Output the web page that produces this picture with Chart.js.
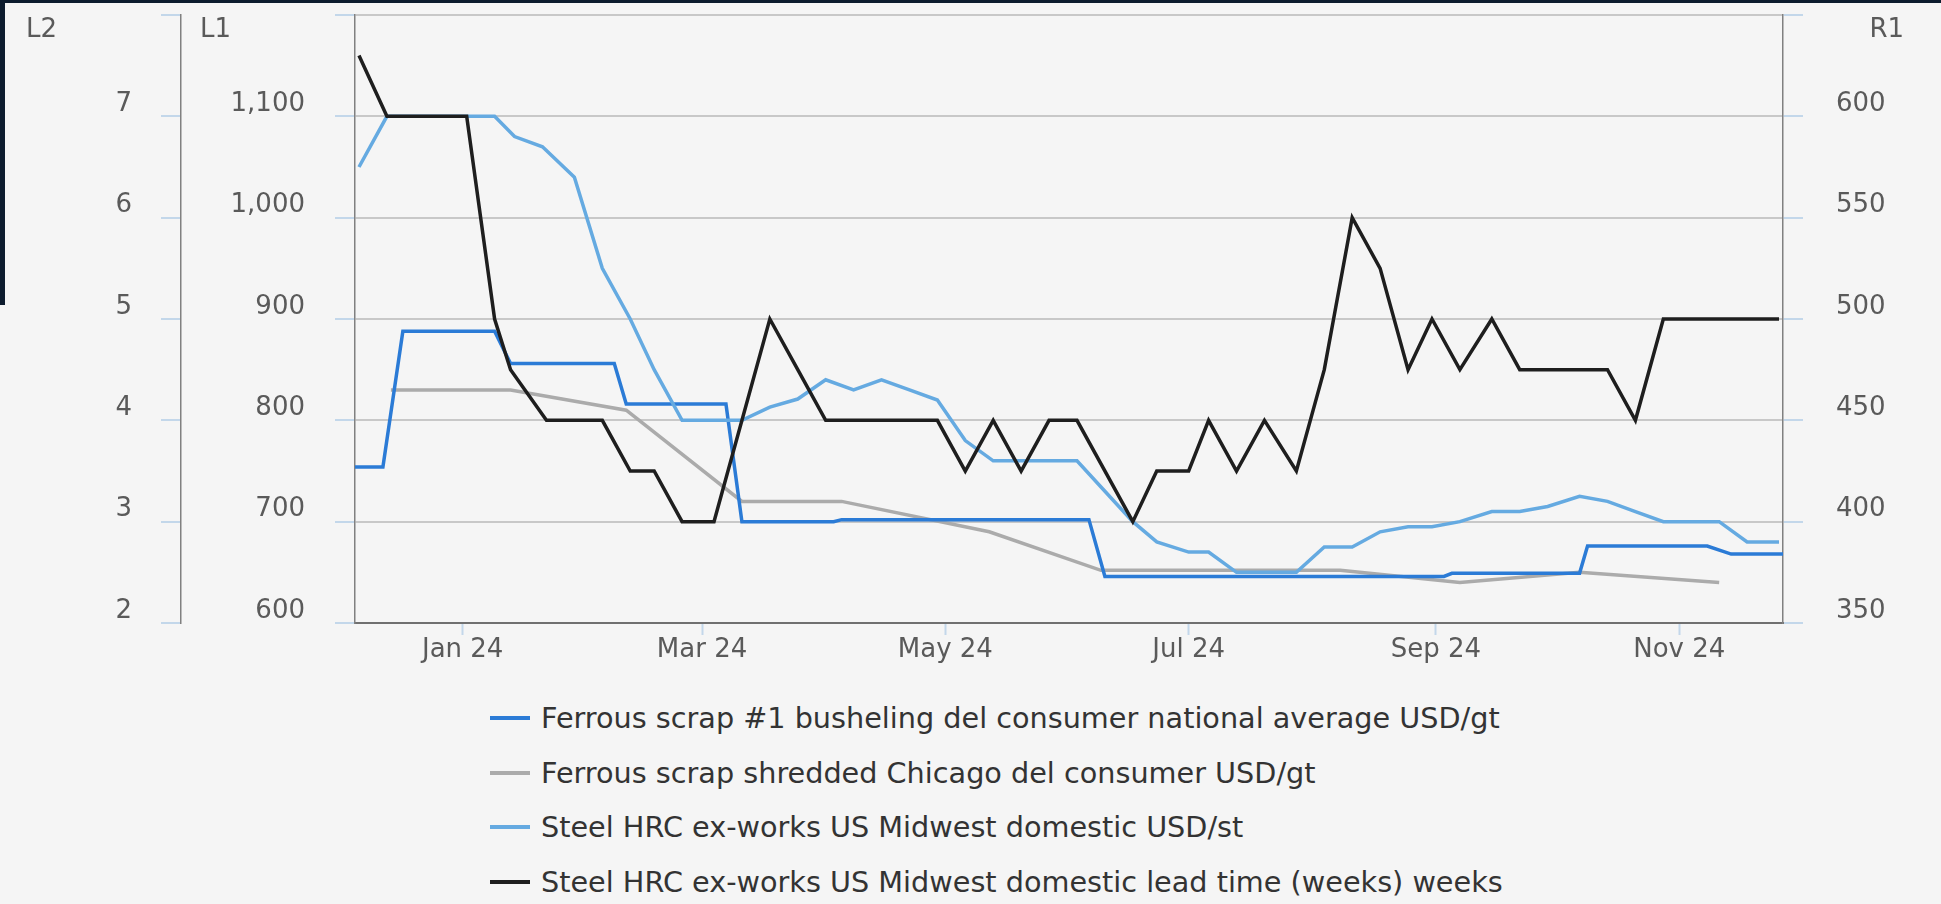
<!DOCTYPE html>
<html>
<head>
<meta charset="utf-8">
<title>Ferrous scrap and HRC</title>
<script src="https://cdn.jsdelivr.net/npm/chart.js@4.4.1/dist/chart.umd.min.js"></script>
<style>
  html, body { margin: 0; padding: 0; background: #f5f5f5; }
  body { width: 1941px; height: 904px; position: relative; overflow: hidden; font-family: "DejaVu Sans", sans-serif; }
  .edgeTop { position: absolute; left: 0; top: 0; width: 1941px; height: 3px; background: #0d1c2e; }
  .edgeLeft { position: absolute; left: 0; top: 0; width: 5px; height: 305px; background: #0d1c2e; }
  #chartBox { position: relative; width: 1941px; height: 680px; }
  #legend { padding: 11px 0 0 490px; }
  #legend .item { display: flex; align-items: center; height: 54.6px; font-size: 28.7px; color: #333; white-space: nowrap; }
  #legend .swatch { display: inline-block; width: 40px; height: 4px; margin-right: 11px; }
</style>
</head>
<body>
<div class="edgeTop"></div>
<div class="edgeLeft"></div>
<div id="chartBox"><canvas id="steelChart"></canvas></div>
<div id="legend"></div>

<script>
/******************************************************
 * DATA
 ******************************************************/
const tickDates  = ["2024-01-01", "2024-03-01", "2024-05-01", "2024-07-01", "2024-09-01", "2024-11-01"];
const tickLabels = ["Jan 24", "Mar 24", "May 24", "Jul 24", "Sep 24", "Nov 24"];

const seriesNames = [
  "Ferrous scrap #1 busheling del consumer national average USD/gt",
  "Ferrous scrap shredded Chicago del consumer USD/gt",
  "Steel HRC ex-works US Midwest domestic USD/st",
  "Steel HRC ex-works US Midwest domestic lead time (weeks) weeks"
];

// busheling, right axis (R1)
const bushelingDates = ["2023-12-05", "2023-12-12", "2023-12-17", "2024-01-09", "2024-01-13", "2024-02-08",
  "2024-02-11", "2024-03-07", "2024-03-11", "2024-04-03", "2024-04-05", "2024-06-06", "2024-06-10",
  "2024-09-03", "2024-09-05", "2024-10-07", "2024-10-09", "2024-11-08", "2024-11-14", "2024-11-27"];
const bushelingValues = [427, 427, 494, 494, 478, 478,
  458, 458, 400, 400, 401, 401, 373,
  373, 374.5, 374.5, 388, 388, 384, 384];

// shredded, right axis (R1)
const shreddedDates = ["2023-12-14", "2024-01-13", "2024-02-11", "2024-03-11", "2024-04-05", "2024-05-12",
  "2024-06-09", "2024-08-08", "2024-09-07", "2024-10-07", "2024-11-11"];
const shreddedValues = [465, 465, 455, 410, 410, 395, 376, 376, 370, 375, 370];

// HRC price, left inner axis (L1)
const hrcDates = ["2023-12-06", "2023-12-13", "2024-01-09", "2024-01-14", "2024-01-21", "2024-01-29",
  "2024-02-05", "2024-02-12", "2024-02-18", "2024-02-25", "2024-03-11", "2024-03-18", "2024-03-25",
  "2024-04-01", "2024-04-08", "2024-04-15", "2024-04-22", "2024-04-29", "2024-05-06", "2024-05-13",
  "2024-06-03", "2024-06-10", "2024-06-17", "2024-06-23", "2024-07-01", "2024-07-06", "2024-07-13",
  "2024-07-28", "2024-08-04", "2024-08-11", "2024-08-18", "2024-08-25", "2024-08-31", "2024-09-07",
  "2024-09-15", "2024-09-22", "2024-09-29", "2024-10-07", "2024-10-14", "2024-10-21", "2024-10-28",
  "2024-11-11", "2024-11-18", "2024-11-26"];
const hrcValues = [1050, 1100, 1100, 1080, 1070, 1040,
  950, 900, 850, 800, 800, 813, 821,
  840, 830, 840, 830, 820, 780, 760,
  760, 730, 700, 680, 670, 670, 650,
  650, 675, 675, 690, 695, 695, 700,
  710, 710, 715, 725, 720, 710, 700,
  700, 680, 680];

// lead time in weeks, left outer axis (L2)
const leadDates = ["2023-12-06", "2023-12-13", "2024-01-02", "2024-01-09", "2024-01-13", "2024-01-22",
  "2024-02-05", "2024-02-12", "2024-02-18", "2024-02-25", "2024-03-04", "2024-03-18", "2024-03-25",
  "2024-04-01", "2024-04-29", "2024-05-06", "2024-05-13", "2024-05-20", "2024-05-27", "2024-06-03",
  "2024-06-17", "2024-06-23", "2024-07-01", "2024-07-06", "2024-07-13", "2024-07-20", "2024-07-28",
  "2024-08-04", "2024-08-11", "2024-08-18", "2024-08-25", "2024-08-31", "2024-09-07", "2024-09-15",
  "2024-09-22", "2024-10-14", "2024-10-21", "2024-10-28", "2024-11-26"];
const leadValues = [7.6, 7, 7, 5, 4.5, 4,
  4, 3.5, 3.5, 3, 3, 5, 4.5,
  4, 4, 3.5, 4, 3.5, 4, 4,
  3, 3.5, 3.5, 4, 3.5, 4, 3.5,
  4.5, 6, 5.5, 4.5, 5, 4.5, 5,
  4.5, 4.5, 4, 5, 5];

const axisNames = ["L2", "L1", "R1"];


/******************************************************
 * HELPERS
 ******************************************************/
const DAY0 = Date.UTC(2024, 0, 1);

function dayOf(s) {
  const [y, m, d] = s.split("-").map(Number);
  return (Date.UTC(y, m - 1, d) - DAY0) / 86400000;
}

function points(dates, values) {
  return dates.map((d, i) => ({ x: dayOf(d), y: values[i] }));
}

const TICK_BLUE = "#c3d7ea";
const GRID = "#c8c8c8";
const AXIS = "#808080";
const LABEL = "#5a5a5a";

Chart.defaults.font.family = "'DejaVu Sans', sans-serif";
Chart.defaults.font.size = 26;
Chart.defaults.color = LABEL;

// names of the value axes, written above the top tick
const axisTitles = {
  id: "axisTitles",
  afterDraw(chart) {
    const ctx = chart.ctx;
    ctx.save();
    ctx.font = "26px 'DejaVu Sans'";
    ctx.fillStyle = LABEL;
    ctx.textBaseline = "middle";
    axisNames.forEach(id => {
      const s = chart.scales[id];
      if (s.position === "left") {
        ctx.textAlign = "left";
        ctx.fillText(id, s.right - 155, chart.chartArea.top + 15);
      } else {
        ctx.textAlign = "right";
        ctx.fillText(id, s.left + 121, chart.chartArea.top + 15);
      }
    });
    ctx.restore();
  }
};

function sideAxis(position, min, max, step, width, pad, weight, onArea, fmt) {
  return {
    type: "linear",
    position: position,
    weight: weight,
    min: min,
    max: max,
    afterFit: s => { s.width = width; s.paddingTop = 0; s.paddingBottom = 0; },
    border: { display: true, color: AXIS, width: 1.5 },
    grid: { drawOnChartArea: onArea, color: GRID, lineWidth: 2, tickLength: 20, tickColor: TICK_BLUE, tickWidth: 2 },
    ticks: {
      stepSize: step,
      padding: pad,
      labelOffset: -12,
      callback: v => (v === max ? "" : fmt(v))
    }
  };
}


/******************************************************
 * CHART
 ******************************************************/
const chart = new Chart(document.getElementById("steelChart"), {
  type: "line",
  data: {
    datasets: [
      {
        label: seriesNames[0],
        data: points(bushelingDates, bushelingValues),
        yAxisID: "R1",
        borderColor: "#2b7bd6",
        order: 2
      },
      {
        label: seriesNames[1],
        data: points(shreddedDates, shreddedValues),
        yAxisID: "R1",
        borderColor: "#ababab",
        order: 3
      },
      {
        label: seriesNames[2],
        data: points(hrcDates, hrcValues),
        yAxisID: "L1",
        borderColor: "#65aae1",
        order: 1
      },
      {
        label: seriesNames[3],
        data: points(leadDates, leadValues),
        yAxisID: "L2",
        borderColor: "#1e1e1e",
        order: 0
      }
    ]
  },
  options: {
    responsive: true,
    maintainAspectRatio: false,
    animation: false,
    layout: { padding: { top: 15, left: 0, right: 0, bottom: 0 } },
    elements: {
      line: { borderWidth: 3.5, tension: 0, fill: false, borderJoinStyle: "miter" },
      point: { radius: 0, hoverRadius: 0 }
    },
    plugins: {
      legend: { display: false },
      tooltip: { enabled: false }
    },
    scales: {
      x: {
        type: "linear",
        min: dayOf(bushelingDates[0]),
        max: dayOf(bushelingDates[bushelingDates.length - 1]),
        afterBuildTicks: s => { s.ticks = tickDates.map(d => ({ value: dayOf(d) })); },
        afterFit: s => { s.height = 57; s.paddingLeft = 0; s.paddingRight = 0; },
        border: { display: true, color: "#707070", width: 2 },
        grid: { drawOnChartArea: false, tickLength: 12, tickColor: TICK_BLUE, tickWidth: 2 },
        ticks: {
          autoSkip: false,
          maxRotation: 0,
          padding: 0,
          callback: (v, i) => tickLabels[i]
        }
      },
      L2: sideAxis("left", 2, 8, 1, 181, 29, 2, false, v => String(v)),
      L1: sideAxis("left", 600, 1200, 100, 174, 30, 1, true, v => v.toLocaleString("en-US")),
      R1: sideAxis("right", 350, 650, 50, 158, 33, 1, false, v => String(v))
    }
  },
  plugins: [axisTitles]
});


/******************************************************
 * LEGEND (one entry per row)
 ******************************************************/
const legendBox = document.getElementById("legend");
chart.data.datasets.forEach(ds => {
  const row = document.createElement("div");
  row.className = "item";
  row.innerHTML = `<span class="swatch" style="background:${ds.borderColor}"></span><span>${ds.label}</span>`;
  legendBox.appendChild(row);
});
</script>
</body>
</html>
